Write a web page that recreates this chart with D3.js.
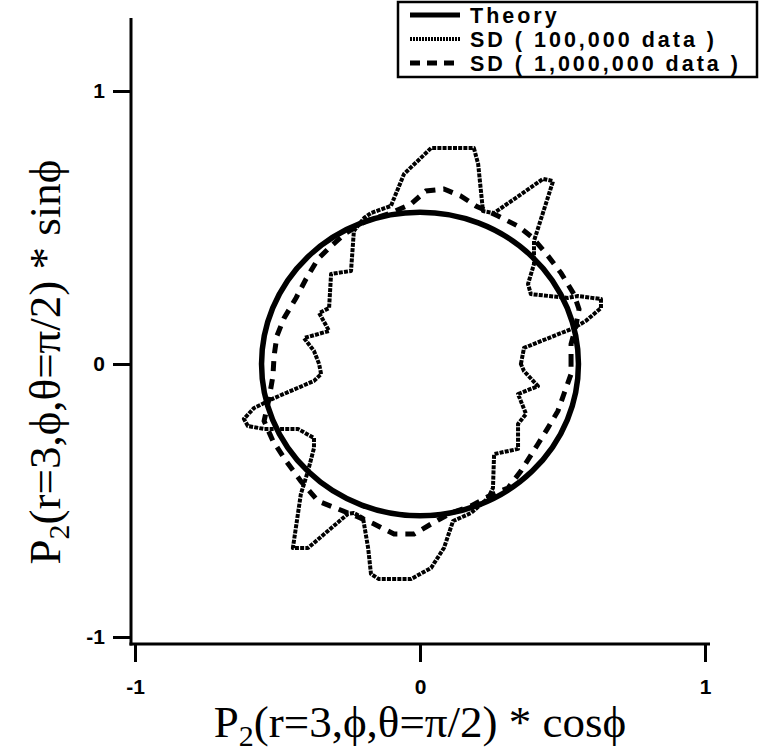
<!DOCTYPE html>
<html>
<head>
<meta charset="utf-8">
<script src="https://cdn.jsdelivr.net/npm/d3@7"></script>
<style>
  html, body { margin: 0; padding: 0; background: #fff; }
  svg { display: block; }
</style>
</head>
<body>
<svg id="chart" width="760" height="751"></svg>
<script>
// Axis ticks
const xTicks = [-1, 0, 1];
const yTicks = [-1, 0, 1];

// Theory: constant P2 value, drawn as a circle in the (cos, sin) plane
const theoryP2 = 0.556;

// SD (100,000 data): P2*cos(phi), P2*sin(phi)
const sd100kX = [0.354, 0.365, 0.540, 0.582, 0.635, 0.635, 0.554, 0.519, 0.389, 0.379, 0.400, 0.400,
  0.467, 0.432, 0.260, 0.221, 0.204, 0.189, 0.039, -0.056, -0.102, -0.172, -0.196, -0.232,
  -0.242, -0.312, -0.319, -0.354, -0.319, -0.407, -0.372, -0.354, -0.347, -0.372, -0.512, -0.547,
  -0.582, -0.618, -0.604, -0.547, -0.428, -0.372, -0.372, -0.393, -0.418, -0.446, -0.393, -0.253,
  -0.232, -0.200, -0.182, -0.172, -0.144, -0.032, 0.039, 0.084, 0.116, 0.179, 0.239, 0.256,
  0.260, 0.344, 0.344, 0.372, 0.344, 0.414, 0.365];
const sd100kY = [0.000, 0.059, 0.132, 0.158, 0.205, 0.238, 0.249, 0.242, 0.256, 0.293, 0.366, 0.451,
  0.670, 0.678, 0.553, 0.560, 0.733, 0.791, 0.791, 0.696, 0.579, 0.553, 0.535, 0.487,
  0.341, 0.330, 0.205, 0.187, 0.121, 0.095, 0.048, 0.000, -0.037, -0.062, -0.125, -0.143,
  -0.161, -0.201, -0.227, -0.238, -0.238, -0.271, -0.308, -0.392, -0.476, -0.674, -0.674, -0.549,
  -0.546, -0.564, -0.674, -0.769, -0.788, -0.788, -0.747, -0.674, -0.575, -0.546, -0.491, -0.454,
  -0.330, -0.311, -0.220, -0.183, -0.110, -0.081, -0.026];

// SD (1,000,000 data): P2*cos(phi), P2*sin(phi)
const sd1mX = [0.530, 0.530, 0.547, 0.558, 0.540, 0.495, 0.449, 0.396, 0.344, 0.274, 0.196, 0.144,
  0.084, 0.021, -0.032, -0.102, -0.189, -0.260, -0.312, -0.358, -0.400, -0.435, -0.477, -0.502,
  -0.512, -0.516, -0.530, -0.547, -0.516, -0.470, -0.418, -0.358, -0.288, -0.225, -0.161, -0.091,
  -0.021, 0.039, 0.109, 0.179, 0.249, 0.309, 0.354, 0.414, 0.449, 0.484, 0.505, 0.530];
const sd1mY = [0.000, 0.073, 0.139, 0.201, 0.256, 0.333, 0.396, 0.462, 0.505, 0.542, 0.579, 0.615,
  0.641, 0.634, 0.586, 0.553, 0.524, 0.480, 0.432, 0.385, 0.311, 0.242, 0.168, 0.103,
  0.029, -0.044, -0.128, -0.209, -0.282, -0.355, -0.429, -0.502, -0.531, -0.557, -0.586, -0.623,
  -0.623, -0.586, -0.546, -0.520, -0.480, -0.454, -0.392, -0.293, -0.234, -0.172, -0.110, -0.037];

const legendLabels = ["Theory", "SD ( 100,000 data )", "SD ( 1,000,000 data )"];

const svg = d3.select("#chart");

const x = d3.scaleLinear().domain([-1, 1]).range([135, 705]);
const y = d3.scaleLinear().domain([-1, 1]).range([637, 91]);

const axisX = 131;   // y-axis line position
const axisY = 644;   // x-axis line position

const sansFont = "'Liberation Sans', Arial, sans-serif";
const tickFmt = d => (d < 0 ? "-" + Math.abs(d) : String(d));

// y axis
const gy = svg.append("g")
  .attr("transform", `translate(${axisX},0)`)
  .call(d3.axisLeft(y).tickValues(yTicks).tickSize(18).tickPadding(8).tickFormat(tickFmt));
gy.select(".domain").remove();
gy.selectAll(".tick line").attr("stroke", "#000").attr("stroke-width", 3);
gy.selectAll(".tick text")
  .attr("fill", "#000")
  .style("font-family", sansFont)
  .style("font-weight", "bold")
  .style("font-size", "21px");
svg.append("line")
  .attr("x1", axisX).attr("x2", axisX)
  .attr("y1", 18).attr("y2", axisY + 1.5)
  .attr("stroke", "#000").attr("stroke-width", 3);

// x axis
const gx = svg.append("g")
  .attr("transform", `translate(0,${axisY})`)
  .call(d3.axisBottom(x).tickValues(xTicks).tickSize(18).tickPadding(17).tickFormat(tickFmt));
gx.select(".domain").remove();
gx.selectAll(".tick line").attr("stroke", "#000").attr("stroke-width", 3);
gx.selectAll(".tick text")
  .attr("fill", "#000")
  .style("font-family", sansFont)
  .style("font-weight", "bold")
  .style("font-size", "21px");
svg.append("line")
  .attr("x1", axisX - 1.5).attr("x2", 710)
  .attr("y1", axisY).attr("y2", axisY)
  .attr("stroke", "#000").attr("stroke-width", 3);

// axis titles
const titleFont = "'Liberation Serif', 'Times New Roman', serif";
function axisTitle(sel, trig) {
  sel.append("tspan").text("P");
  sel.append("tspan").attr("dy", 9).style("font-size", "30px").text("2");
  sel.append("tspan").attr("dy", -9).text(`(r=3,\u03D5,\u03B8=\u03C0/2) * ${trig}\u03D5`);
}
svg.append("text")
  .attr("x", 420).attr("y", 737)
  .attr("text-anchor", "middle")
  .style("font-family", titleFont)
  .style("font-size", "45px")
  .call(axisTitle, "cos");
svg.append("text")
  .attr("transform", "translate(60,362) rotate(-90)")
  .attr("text-anchor", "middle")
  .style("font-family", titleFont)
  .style("font-size", "45px")
  .call(axisTitle, "sin");

// curves
const plot = svg.append("g");
const line = d3.line().x(d => x(d[0])).y(d => y(d[1])).curve(d3.curveLinearClosed);

plot.append("ellipse")
  .attr("cx", x(0)).attr("cy", y(0))
  .attr("rx", x(theoryP2) - x(0)).attr("ry", y(0) - y(theoryP2))
  .attr("fill", "none").attr("stroke", "#000").attr("stroke-width", 5.5);

plot.append("path")
  .datum(d3.zip(sd100kX, sd100kY))
  .attr("d", line)
  .attr("fill", "none").attr("stroke", "#000")
  .attr("stroke-width", 4).attr("stroke-dasharray", "4,1.2")
  .attr("stroke-linejoin", "round");

plot.append("path")
  .datum(d3.zip(sd1mX, sd1mY))
  .attr("d", line)
  .attr("fill", "none").attr("stroke", "#000")
  .attr("stroke-width", 5).attr("stroke-dasharray", "10,8");

// legend
const lg = svg.append("g");
lg.append("rect")
  .attr("x", 398).attr("y", 2).attr("width", 359).attr("height", 75)
  .attr("fill", "#fff").attr("stroke", "#000").attr("stroke-width", 2.5);
const styles = [
  { w: 5, dash: null },
  { w: 4, dash: "2,1" },
  { w: 5, dash: "10,7" }
];
legendLabels.forEach((lab, i) => {
  const cy = 15 + i * 24;
  lg.append("line")
    .attr("x1", 410).attr("x2", 460).attr("y1", cy).attr("y2", cy)
    .attr("stroke", "#000").attr("stroke-width", styles[i].w)
    .attr("stroke-dasharray", styles[i].dash);
  lg.append("text")
    .attr("x", 470).attr("y", cy + 8)
    .style("font-family", sansFont)
    .style("font-weight", "bold")
    .style("font-size", "21.5px")
    .style("letter-spacing", "3px")
    .text(lab);
});
</script>
</body>
</html>
